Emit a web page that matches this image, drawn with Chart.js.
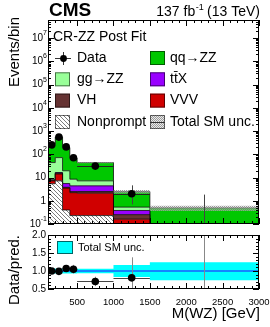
<!DOCTYPE html>
<html>
<head>
<meta charset="utf-8">
<script src="https://cdn.jsdelivr.net/npm/chart.js@4.4.1/dist/chart.umd.min.js"></script>
<style>
  html, body { margin: 0; padding: 0; background: #fff; }
  #wrap { position: relative; width: 270px; height: 327px; }
  #wrap canvas { position: absolute; left: 0; top: 0; }
</style>
</head>
<body>
<div id="wrap">
  <canvas id="main" width="270" height="327"></canvas>
  <canvas id="ratio" width="270" height="327"></canvas>
</div>
<script>
// M(WZ) bins [GeV]
const binEdges = [100, 200, 300, 400, 500, 1000, 1500, 3000];
const binCenters = [150, 250, 350, 450, 750, 1250, 2250];

// post-fit yields per bin
const nonprompt = [5.4, 7.2, 0.40, 0.23, 0.23, 0.002, 0.002];
const vvv       = [1.8, 7.0, 3.1, 2.0, 1.9, 0.16, 0.02];
const vh        = [0.4, 1.2, 0.3, 0.25, 0.36, 0.09, 0.01];
const ttx       = [0.4, 1.0, 1.7, 1.9, 1.9, 0.13, 0.01];
const ggzz      = [36, 55.6, 14, 4.1, 2.8, 0.15, 0.02];
const qqzz      = [209, 486, 175, 60, 37, 1.94, 0.43];

// observed data with asymmetric errors
const dataCounts = [253, 550, 208, 71, 31, 2, 0];
const dataErrUp  = [17, 24, 15, 9.5, 6.6, 2.6, 1.84];
const dataErrDn  = [16, 23, 14, 8.4, 5.5, 1.3, 0];

// relative total SM uncertainty
const uncUp = [0.07, 0.06, 0.07, 0.07, 0.065, 0.17, 0.24];
const uncDn = [0.07, 0.06, 0.07, 0.07, 0.065, 0.17, 0.26];

// ratio panel
const ratioVals = [1.0, 0.99, 1.07, 1.05, 0.71, 0.81, 0];
const ratioErr  = [0.06, 0.04, 0.07, 0.12, 0.13, 0.57, 3.7];

const yTicksMain = [0.1, 1, 10, 100, 1e3, 1e4, 1e5, 1e6, 1e7];
const xTickLabels = [500, 1000, 1500, 2000, 2500, 3000];
const yTicksRatio = [0.5, 1.0, 1.5, 2.0];

const FONT = '"Liberation Sans", Arial, Helvetica, sans-serif';

// step points: one per lower edge plus the last edge
function steps(vals) {
  return binEdges.map((x, i) => ({ x: x, y: vals[Math.min(i, vals.length - 1)] }));
}

function cumulate(list) {
  const out = [];
  let run = list[0].map(() => 0);
  list.forEach(arr => {
    run = run.map((v, i) => v + arr[i]);
    out.push(run.slice());
  });
  return out;
}

const mainCanvas = document.getElementById('main');
const mainCtx = mainCanvas.getContext('2d');
const ratioCanvas = document.getElementById('ratio');
const ratioCtx = ratioCanvas.getContext('2d');

function hatch(ctx) {
  const c = document.createElement('canvas');
  c.width = 4; c.height = 4;
  const g = c.getContext('2d');
  g.fillStyle = '#fff';
  g.fillRect(0, 0, 4, 4);
  g.strokeStyle = '#444';
  g.lineWidth = 0.7;
  g.beginPath();
  g.moveTo(-1, -1); g.lineTo(5, 5);
  g.moveTo(-1, 3); g.lineTo(1, 5);
  g.moveTo(3, -1); g.lineTo(5, 1);
  g.stroke();
  return ctx.createPattern(c, 'repeat');
}

function greyDots(ctx) {
  const c = document.createElement('canvas');
  c.width = 2; c.height = 2;
  const g = c.getContext('2d');
  g.fillStyle = 'rgba(130,130,130,0.8)';
  g.fillRect(0, 0, 1, 1);
  g.fillRect(1, 1, 1, 1);
  g.fillStyle = 'rgba(215,215,215,0.5)';
  g.fillRect(1, 0, 1, 1);
  g.fillRect(0, 1, 1, 1);
  return ctx.createPattern(c, 'repeat');
}

const hatchFill = hatch(mainCtx);
const uncFill = greyDots(mainCtx);

const colors = {
  qqzz: '#00c800',
  ggzz: '#99ff99',
  ttx: '#9900ff',
  vh: '#663333',
  vvv: '#d00000'
};

const stackParts = [nonprompt, vvv, vh, ttx, ggzz, qqzz];
const stackFills = [hatchFill, colors.vvv, colors.vh, colors.ttx, colors.ggzz, colors.qqzz];
const cum = cumulate(stackParts);
const total = cum[cum.length - 1];

const mainSets = cum.map((vals, i) => ({
  data: steps(vals),
  stepped: true,
  fill: i === 0 ? 'start' : '-1',
  backgroundColor: stackFills[i],
  borderColor: 'rgba(0,0,0,0.75)',
  borderWidth: 1,
  pointRadius: 0,
  order: 10,
  clip: 0
}));

mainSets.push({
  data: steps(total.map((t, i) => t * (1 - uncDn[i]))),
  stepped: true, fill: false, borderWidth: 0, pointRadius: 0, order: 5, clip: 0
});
mainSets.push({
  data: steps(total.map((t, i) => t * (1 + uncUp[i]))),
  stepped: true, fill: '-1', backgroundColor: uncFill, borderWidth: 0, pointRadius: 0, order: 5, clip: 0
});
mainSets.push({
  label: 'Data',
  data: binCenters.map((x, i) => ({ x: x, y: dataCounts[i] > 0 ? dataCounts[i] : null })),
  showLine: false,
  pointRadius: 3.8,
  pointBackgroundColor: '#000',
  pointBorderColor: '#000',
  pointBorderWidth: 0,
  order: 0
});

function frameAndTicks(chart, yMode) {
  const ctx = chart.ctx;
  const a = chart.chartArea;
  const xs = chart.scales.x;
  const ys = chart.scales.y;
  ctx.save();
  ctx.strokeStyle = '#000';
  ctx.lineWidth = 1;
  ctx.beginPath();
  for (let v = 100; v <= 3000; v += 100) {
    const px = Math.round(xs.getPixelForValue(v)) + 0.5;
    const len = v % 500 === 0 ? 6 : 3;
    ctx.moveTo(px, a.bottom); ctx.lineTo(px, a.bottom - len);
    ctx.moveTo(px, a.top); ctx.lineTo(px, a.top + len);
  }
  if (yMode === 'log') {
    for (let k = -1; k <= 7; k++) {
      for (let m = 1; m <= 9; m++) {
        const v = m * Math.pow(10, k);
        if (v > ys.max) break;
        const py = Math.round(ys.getPixelForValue(v)) + 0.5;
        const len = m === 1 ? 6 : 3;
        ctx.moveTo(a.left, py); ctx.lineTo(a.left + len, py);
        ctx.moveTo(a.right, py); ctx.lineTo(a.right - len, py);
      }
    }
  } else {
    for (let i = 5; i <= 20; i++) {
      const py = Math.round(ys.getPixelForValue(i / 10)) + 0.5;
      const len = i % 5 === 0 ? 6 : 3;
      ctx.moveTo(a.left, py); ctx.lineTo(a.left + len, py);
      ctx.moveTo(a.right, py); ctx.lineTo(a.right - len, py);
    }
  }
  ctx.stroke();
  ctx.strokeRect(Math.round(a.left) + 0.5, Math.round(a.top) + 0.5,
    Math.round(a.right - a.left) - 1, Math.round(a.bottom - a.top) - 1);
  ctx.restore();
}

function errorBars(chart, xs0, vals, up, dn, vColor, hColor) {
  const ctx = chart.ctx;
  const a = chart.chartArea;
  const xs = chart.scales.x;
  const ys = chart.scales.y;
  ctx.save();
  ctx.beginPath();
  ctx.rect(a.left, a.top, a.right - a.left, a.bottom - a.top);
  ctx.clip();
  ctx.lineWidth = 1;
  vals.forEach((v, i) => {
    const px = Math.round(xs.getPixelForValue(xs0[i])) + 0.5;
    const lo = v - dn[i];
    const yLo = lo > 0 ? ys.getPixelForValue(lo) : a.bottom + 5;
    const yHi = ys.getPixelForValue(v + up[i]);
    ctx.strokeStyle = vColor;
    ctx.beginPath();
    ctx.moveTo(px, Math.min(yLo, a.bottom + 5));
    ctx.lineTo(px, Math.max(yHi, a.top - 5));
    ctx.stroke();
    if (v > 0) {
      const py = Math.round(ys.getPixelForValue(v)) + 0.5;
      ctx.strokeStyle = hColor;
      ctx.beginPath();
      ctx.moveTo(xs.getPixelForValue(binEdges[i]), py);
      ctx.lineTo(xs.getPixelForValue(binEdges[i + 1]), py);
      ctx.stroke();
    }
  });
  ctx.restore();
}

const mainPlugin = {
  id: 'mainDecor',
  beforeDatasetDraw(chart, args) {
    if (args.index === chart.data.datasets.length - 1) {
      errorBars(chart, binCenters, dataCounts, dataErrUp, dataErrDn, '#444', '#222');
    }
  },
  afterDraw(chart) {
    const ctx = chart.ctx;
    const ys = chart.scales.y;
    frameAndTicks(chart, 'log');

    ctx.save();
    ctx.fillStyle = '#000';
    // y tick labels with exponents
    ctx.textBaseline = 'middle';
    yTicksMain.forEach(v => {
      const py = ys.getPixelForValue(v);
      const k = Math.round(Math.log10(v));
      const right = 46;
      if (k === 0 || k === 1) {
        ctx.font = '10px ' + FONT;
        ctx.textAlign = 'right';
        ctx.fillText(k === 0 ? '1' : '10', right, py);
      } else {
        ctx.font = '7px ' + FONT;
        const e = String(k);
        const ew = ctx.measureText(e).width;
        ctx.textAlign = 'right';
        ctx.fillText(e, right + 1, py - 5);
        ctx.font = '10px ' + FONT;
        ctx.fillText('10', right + 1 - ew, py);
      }
    });

    // header
    ctx.textAlign = 'left';
    ctx.textBaseline = 'alphabetic';
    ctx.font = 'bold 19px ' + FONT;
    ctx.fillText('CMS', 49, 16);

    ctx.font = '14px ' + FONT;
    const p1 = '137 fb', p3 = ' (13 TeV)';
    const w1 = ctx.measureText(p1).width, w3 = ctx.measureText(p3).width;
    ctx.font = '9px ' + FONT;
    const p2 = '-1';
    const w2 = ctx.measureText(p2).width;
    const x0 = 260 - (w1 + w2 + w3);
    ctx.font = '14px ' + FONT;
    ctx.fillText(p1, x0, 16);
    ctx.font = '9px ' + FONT;
    ctx.fillText(p2, x0 + w1 + 0.5, 10);
    ctx.font = '14px ' + FONT;
    ctx.fillText(p3, x0 + w1 + w2, 16);

    // y title
    ctx.save();
    ctx.translate(15, 17);
    ctx.rotate(-Math.PI / 2);
    ctx.font = '15px ' + FONT;
    ctx.textAlign = 'right';
    ctx.textBaseline = 'middle';
    ctx.fillText('Events/bin', 0, 0);
    ctx.restore();

    // legend
    ctx.textBaseline = 'middle';
    ctx.textAlign = 'left';
    ctx.font = '14px ' + FONT;
    ctx.fillText('CR-ZZ Post Fit', 53, 37);

    const rows = [58, 79.3, 100.6, 122];
    const box = (x, y, fill) => {
      ctx.fillStyle = fill;
      ctx.fillRect(x, y - 7, 15, 14);
      ctx.strokeStyle = 'rgba(0,0,0,0.55)';
      ctx.lineWidth = 1;
      ctx.strokeRect(x + 0.5, y - 6.5, 14, 13);
    };
    const label = (x, y, t) => {
      ctx.fillStyle = '#000';
      ctx.font = '14px ' + FONT;
      ctx.fillText(t, x, y);
    };
    // Data marker
    ctx.strokeStyle = '#333';
    ctx.lineWidth = 1;
    ctx.beginPath();
    ctx.moveTo(55, rows[0] + 0.5); ctx.lineTo(71, rows[0] + 0.5);
    ctx.moveTo(63.5, rows[0] - 6); ctx.lineTo(63.5, rows[0] + 7);
    ctx.stroke();
    ctx.fillStyle = '#000';
    ctx.beginPath();
    ctx.arc(63.5, rows[0] + 0.5, 3.4, 0, Math.PI * 2);
    ctx.fill();
    label(77, rows[0], 'Data');
    box(150, rows[0], colors.qqzz); label(170, rows[0], 'qq\u2192ZZ');
    box(55, rows[1], colors.ggzz); label(77, rows[1], 'gg\u2192ZZ');
    box(150, rows[1], colors.ttx); label(170, rows[1], 'tt\u0304X');
    box(55, rows[2], colors.vh); label(77, rows[2], 'VH');
    box(150, rows[2], colors.vvv); label(170, rows[2], 'VVV');
    box(55, rows[3], hatchFill); label(77, rows[3], 'Nonprompt');
    box(150, rows[3], uncFill);
    ctx.strokeStyle = '#333';
    ctx.beginPath();
    ctx.moveTo(150, rows[3] + 0.5); ctx.lineTo(165, rows[3] + 0.5);
    ctx.stroke();
    label(170, rows[3], 'Total SM unc.');
    ctx.restore();
  }
};

new Chart(mainCtx, {
  type: 'line',
  data: { datasets: mainSets },
  options: {
    responsive: false,
    animation: false,
    devicePixelRatio: 1,
    layout: { padding: { left: 48, right: 11, top: 20, bottom: 103 } },
    plugins: { legend: { display: false }, tooltip: { enabled: false } },
    elements: { line: { tension: 0 } },
    scales: {
      x: { type: 'linear', min: 100, max: 3000, display: false },
      y: { type: 'logarithmic', min: 0.1, max: 6e7, display: false }
    }
  },
  plugins: [mainPlugin]
});

// ratio panel
const ratioSets = [
  {
    data: steps(uncDn.map(u => 1 - u)),
    stepped: true, fill: false, borderWidth: 0, pointRadius: 0, order: 10, clip: 0
  },
  {
    data: steps(uncUp.map(u => 1 + u)),
    stepped: true, fill: '-1', backgroundColor: '#00ffff', borderWidth: 0, pointRadius: 0, order: 10, clip: 0
  },
  {
    data: [{ x: 100, y: 1 }, { x: 3000, y: 1 }],
    borderColor: '#1a5cff', borderWidth: 1.5, pointRadius: 0, fill: false, order: 5
  },
  {
    label: 'Ratio',
    data: binCenters.map((x, i) => ({ x: x, y: ratioVals[i] > 0 ? ratioVals[i] : null })),
    showLine: false,
    pointRadius: 3.8,
    pointBackgroundColor: '#000',
    pointBorderColor: '#000',
    pointBorderWidth: 0,
    order: 0
  }
];

const ratioPlugin = {
  id: 'ratioDecor',
  beforeDatasetDraw(chart, args) {
    if (args.index === chart.data.datasets.length - 1) {
      errorBars(chart, binCenters, ratioVals, ratioErr, ratioErr, '#888', '#444');
    }
  },
  afterDraw(chart) {
    const ctx = chart.ctx;
    const a = chart.chartArea;
    const xs = chart.scales.x;
    const ys = chart.scales.y;
    frameAndTicks(chart, 'lin');
    ctx.save();
    ctx.fillStyle = '#000';
    ctx.font = '10px ' + FONT;
    ctx.textAlign = 'right';
    ctx.textBaseline = 'middle';
    yTicksRatio.forEach(v => {
      ctx.fillText(v.toFixed(1), 46, ys.getPixelForValue(v));
    });
    ctx.textAlign = 'center';
    ctx.font = '9.5px ' + FONT;
    xTickLabels.forEach(v => {
      ctx.fillText(String(v), xs.getPixelForValue(v), a.bottom + 13);
    });

    ctx.font = '15px ' + FONT;
    ctx.textAlign = 'right';
    ctx.textBaseline = 'alphabetic';
    ctx.fillText('M(WZ) [GeV]', 260, 318);

    ctx.save();
    ctx.translate(15, 235);
    ctx.rotate(-Math.PI / 2);
    ctx.textAlign = 'right';
    ctx.textBaseline = 'middle';
    ctx.fillText('Data/pred.', 0, 0);
    ctx.restore();

    // legend
    ctx.fillStyle = '#00ffff';
    ctx.fillRect(57, 241, 16, 13);
    ctx.strokeStyle = 'rgba(0,0,0,0.6)';
    ctx.lineWidth = 1;
    ctx.strokeRect(57.5, 241.5, 15, 12);
    ctx.fillStyle = '#000';
    ctx.font = '11px ' + FONT;
    ctx.textAlign = 'left';
    ctx.textBaseline = 'middle';
    ctx.fillText('Total SM unc.', 78, 248);
    ctx.restore();
  }
};

new Chart(ratioCtx, {
  type: 'line',
  data: { datasets: ratioSets },
  options: {
    responsive: false,
    animation: false,
    devicePixelRatio: 1,
    layout: { padding: { left: 48, right: 11, top: 235, bottom: 38 } },
    plugins: { legend: { display: false }, tooltip: { enabled: false } },
    elements: { line: { tension: 0 } },
    scales: {
      x: { type: 'linear', min: 100, max: 3000, display: false },
      y: { type: 'linear', min: 0.5, max: 2.0, display: false }
    }
  },
  plugins: [ratioPlugin]
});
</script>
</body>
</html>
